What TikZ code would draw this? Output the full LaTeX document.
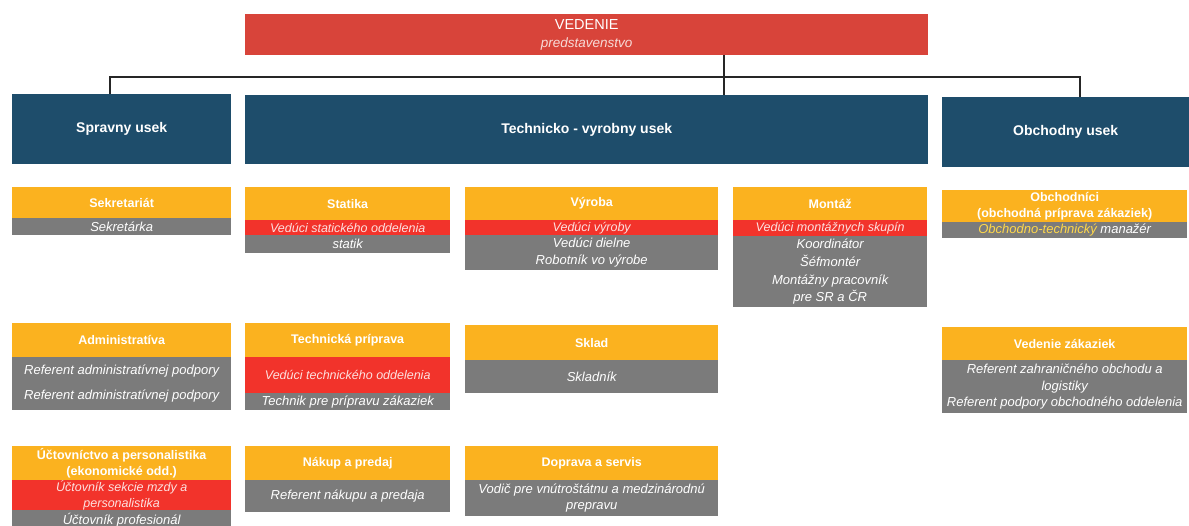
\documentclass[tikz,border=0pt]{standalone}
\usepackage{fontspec}
\setmainfont{Liberation Sans}
\definecolor{orangec}{HTML}{FBB21F}
\definecolor{redc}{HTML}{F2332B}
\definecolor{topred}{HTML}{D8443A}
\definecolor{greyc}{HTML}{7B7B7B}
\definecolor{bluec}{HTML}{1E4D6B}
\definecolor{yellowtxt}{HTML}{FFD84A}
\newcommand\mkbox[7]{\node[#6, minimum width=#4pt, minimum height=#5pt] (#1) at (#2,#3) {#7};}
\tikzset{
  cell/.style={anchor=north west, inner sep=0pt, align=center, text=white},
  ttl/.style={cell, fill=orangec, font=\bfseries\fontsize{12.5}{16}\selectfont},
  lead/.style={cell, fill=redc, text=white!85!redc, font=\itshape\fontsize{12.5}{16}\selectfont},
  staff/.style={cell, fill=greyc, font=\itshape\fontsize{13}{16.5}\selectfont},
  usek/.style={cell, fill=bluec, font=\bfseries\fontsize{14}{17}\selectfont},
  conn/.style={draw=black!85, line width=1.2pt}
}
\begin{document}
\begin{tikzpicture}[x=1pt,y=-1pt]
\useasboundingbox[fill=white] (0,0) rectangle (1189,526);
% top
\mkbox{vedenie}{245}{14}{683}{41}{cell, fill=topred, font=\fontsize{14.5}{18}\selectfont}{VEDENIE\\{\itshape\fontsize{13.5}{16}\selectfont\color{white!80!topred} predstavenstvo}}
% divisions
\mkbox{sprav}{12}{94}{219}{70}{usek}{Spravny usek}
\mkbox{techu}{245}{95}{683}{69}{usek}{Technicko - vyrobny usek}
\mkbox{obchu}{942}{97}{247}{70}{usek}{Obchodny usek}
% connectors
\coordinate (j) at (724,77);
\coordinate (l) at (110,77);
\coordinate (r) at (1080,77);
\draw[conn] (vedenie.south -| j) -- (techu.north -| j);
\draw[conn] (sprav.north -| l) -- (l) -- (r) -- (obchu.north -| r);
% column 1
\mkbox{sek}{12}{187}{219}{31}{ttl}{Sekretariát}
\mkbox{sekg}{12}{218}{219}{17}{staff}{Sekretárka}
\mkbox{adm}{12}{323}{219}{34}{ttl}{Administratíva}
\mkbox{admg}{12}{357}{219}{53}{staff}{Referent administratívnej podpory\\[9pt]Referent administratívnej podpory}
\mkbox{uct}{12}{446}{219}{34}{ttl}{Účtovníctvo a personalistika\\(ekonomické odd.)}
\mkbox{uctr}{12}{480}{219}{30}{lead}{Účtovník sekcie mzdy a\\personalistika}
\mkbox{uctg}{12}{510}{219}{20}{staff}{Účtovník profesionál}
% column 2
\mkbox{stat}{245}{187}{205}{33}{ttl}{Statika}
\mkbox{statr}{245}{220}{205}{15}{lead}{Vedúci statického oddelenia}
\mkbox{statg}{245}{235}{205}{18}{staff}{statik}
\mkbox{tech}{245}{323}{205}{34}{ttl}{Technická príprava}
\mkbox{techr}{245}{357}{205}{36}{lead}{Vedúci technického oddelenia}
\mkbox{techg}{245}{393}{205}{17}{staff}{Technik pre prípravu zákaziek}
\mkbox{nak}{245}{446}{205}{34}{ttl}{Nákup a predaj}
\mkbox{nakg}{245}{480}{205}{32}{staff}{Referent nákupu a predaja}
% column 3
\mkbox{vyr}{465}{187}{253}{33}{ttl}{Výroba}
\mkbox{vyrr}{465}{220}{253}{15}{lead}{Vedúci výroby}
\mkbox{vyrg}{465}{235}{253}{35}{staff}{Vedúci dielne\\Robotník vo výrobe}
\mkbox{skl}{465}{325}{253}{35}{ttl}{Sklad}
\mkbox{sklg}{465}{360}{253}{33}{staff}{Skladník}
\mkbox{dop}{465}{446}{253}{34}{ttl}{Doprava a servis}
\mkbox{dopg}{465}{480}{253}{36}{staff}{Vodič pre vnútroštátnu a medzinárodnú\\prepravu}
% column 4
\mkbox{mon}{733}{187}{194}{33}{ttl}{Montáž}
\mkbox{monr}{733}{220}{194}{16}{lead}{Vedúci montážnych skupín}
\mkbox{mong}{733}{236}{194}{71}{staff}{Koordinátor\\[1.5pt]Šéfmontér\\[1.5pt]Montážny pracovník\\pre SR a ČR}
% column 5
\mkbox{obc}{942}{190}{245}{32}{ttl}{Obchodníci\\(obchodná príprava zákaziek)}
\mkbox{obcg}{942}{222}{245}{16}{staff}{{\color{yellowtxt}Obchodno-technický} manažér}
\mkbox{vez}{942}{327}{245}{33}{ttl}{Vedenie zákaziek}
\mkbox{vezg}{942}{360}{245}{53}{staff}{Referent zahraničného obchodu a\\logistiky\\Referent podpory obchodného oddelenia}
\end{tikzpicture}
\end{document}
